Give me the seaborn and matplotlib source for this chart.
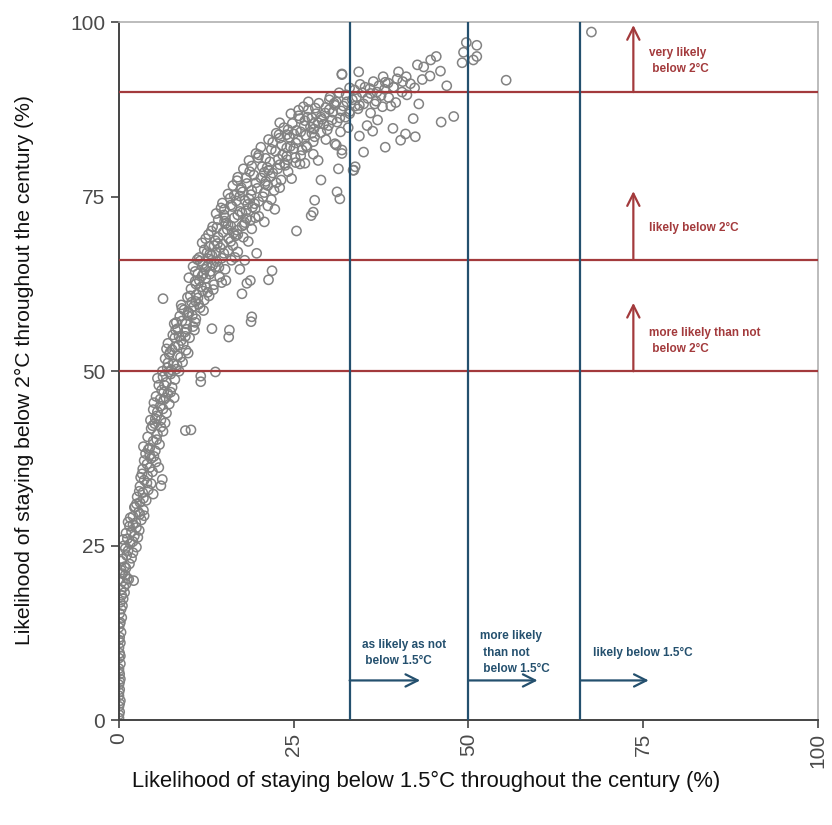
import numpy as np
import pandas as pd
import matplotlib
matplotlib.use("Agg")
import matplotlib.pyplot as plt
import seaborn as sns

# Scenario likelihoods (%): staying below 1.5 °C (x) vs below 2 °C (y)
lowtail_x = [0.0, 0.1, 0.0, 0.2, 0.0, 0.1, 0.0, 0.2, 0.1, 0.0, 0.2, 0.0, 0.1, 0.0, 0.2, 0.1, 0.3,
             0.0, 0.2, 0.4, 0.1, 0.3, 0.5, 0.2, 0.6, 0.4, 0.8, 0.3, 0.7, 1.0, 0.5, 1.2, 0.9, 1.4, 2.1,
             0.0, 0.1, 0.0, 0.1, 0.0, 0.2, 0.0, 0.1]
lowtail_y = [0.3, 1.2, 2.0, 2.8, 3.5, 4.4, 5.1, 5.9, 6.6, 7.4, 8.1, 8.9, 9.6, 10.4, 11.1, 11.9, 12.6,
             13.3, 14.0, 14.7, 15.3, 15.9, 16.4, 16.9, 17.4, 17.9, 18.3, 18.7, 19.1, 19.5, 19.9, 20.3,
             20.8, 20.2, 20.0,
             0.8, 2.4, 4.0, 5.5, 7.0, 9.2, 11.5, 13.8]

rise_x = [0.3, 0.8, 1.5, 0.5, 1.1, 2.0, 0.9, 2.5, 1.6, 1.2, 2.2, 1.8, 2.9, 1.5, 2.4, 3.2, 2.0, 2.8,
          3.5, 2.3, 3.0, 3.9, 2.6, 3.4, 4.2, 3.0, 4.6, 6.0, 6.2, 3.6, 4.1, 4.8, 3.4, 5.3, 4.0, 4.6,
          3.8, 5.2, 4.4, 5.8, 4.9, 4.1,
          0.5, 1.0, 0.3, 1.8, 1.3, 0.7, 2.0, 1.0, 2.5, 2.0, 1.6, 3.0, 2.5, 3.5, 2.9, 4.0, 3.3, 4.4,
          3.6, 5.0, 4.2, 3.5, 5.4]
rise_y = [21.5, 22.0, 22.4, 23.1, 23.6, 24.0, 24.6, 24.8, 25.3, 26.0, 26.4, 27.0, 27.2, 27.8, 28.3,
          28.7, 29.2, 29.8, 30.1, 30.6, 31.2, 31.5, 32.0, 32.6, 33.0, 33.5, 33.9, 33.6, 34.5, 34.4,
          35.0, 35.6, 36.0, 37.0, 36.7, 37.5, 38.2, 38.6, 39.0, 39.5, 40.0, 40.6,
          21.0, 21.8, 22.8, 23.2, 24.3, 25.0, 25.6, 26.8, 27.6, 28.0, 29.0, 29.5, 31.0, 31.8, 32.8,
          34.0, 35.3, 36.2, 37.2, 37.8, 38.8, 39.2, 40.2]

mid_x = [5.5, 6.3, 4.6, 5.1, 9.5, 10.3, 6.0, 5.4, 6.8, 4.9, 5.9, 7.2, 6.4, 5.3, 7.0, 6.1, 7.6, 5.7,
         6.8, 8.0, 6.3, 7.4, 8.6, 6.9, 11.7, 11.7, 13.8,
         7.8, 9.1, 6.6, 8.4, 7.3, 9.6, 8.0, 7.0, 8.9, 10.1, 7.7, 9.4, 8.4, 10.6, 7.9, 9.0, 11.0, 8.7,
         10.0, 9.3, 11.6, 8.9, 10.4, 12.2, 9.8, 11.1,
         13.3, 15.8, 15.7, 19.0, 18.9, 6.3,
         4.8, 6.0, 5.2, 4.5, 6.3, 5.0, 6.7, 5.9, 7.4, 6.5, 5.5, 7.1, 8.2, 7.0, 6.2, 8.8, 7.6, 9.2,
         6.8, 8.0, 9.5,
         7.2, 8.5, 9.7, 10.9, 8.1, 9.9, 11.4, 10.7]
mid_y = [41.0, 41.4, 41.8, 42.5, 41.5, 41.6, 43.0, 43.6, 44.0, 44.5, 45.0, 45.3, 45.9, 46.4, 46.8,
         47.3, 47.7, 48.0, 48.4, 48.8, 49.2, 49.6, 50.0, 50.5, 48.5, 49.3, 49.9,
         51.0, 51.3, 51.8, 52.2, 52.7, 53.0, 53.5, 54.0, 54.4, 54.8, 55.2, 55.6, 56.1, 56.4, 56.8,
         57.2, 57.5, 57.9, 58.3, 58.8, 59.1, 59.5, 59.9, 60.2, 60.6, 61.0,
         56.1, 55.9, 54.9, 57.8, 57.1, 60.4,
         42.2, 42.0, 43.2, 43.0, 44.6, 45.5, 46.2, 46.0, 47.0, 48.0, 49.0, 49.9, 50.3, 51.2, 50.0,
         52.0, 53.1, 53.9, 53.2, 54.8, 55.0,
         52.4, 53.7, 56.0, 57.0, 55.9, 58.5, 59.6, 59.3]

upper_x = [12.7, 10.3, 11.8, 13.6, 10.9, 12.4, 14.4, 11.3, 13.1, 15.2, 10.6, 12.0, 14.0, 16.1, 11.5,
           13.3, 15.0, 17.0, 12.2, 14.5, 16.3, 11.9, 13.8, 15.7, 17.8, 12.8, 14.9, 16.9, 19.0,
           21.9, 21.4, 18.8, 17.6, 18.3, 19.7, 18.0, 12.5,
           13.4, 15.6, 18.0, 14.2, 16.5, 20.0, 13.9, 17.3, 15.1, 19.1, 21.3, 14.8, 16.8, 18.6, 20.6,
           15.6, 17.7, 22.2, 19.8, 16.3, 18.3, 21.0, 23.2, 17.0, 19.3, 22.0, 24.2, 17.8, 20.5, 23.0,
           25.3, 18.6,
           25.4, 27.8, 27.5, 19.5, 31.2, 31.6, 28.0,
           8.2, 9.6, 10.5, 9.0, 11.3, 10.2, 12.0, 11.5, 13.0, 10.9, 12.6, 14.3, 11.2, 12.8, 15.6,
           13.6, 12.4, 14.2, 17.0, 16.0, 14.0, 18.8,
           15.2, 17.0, 19.5, 14.6, 16.5, 18.0, 20.8, 17.5, 19.6, 22.5, 18.2, 21.4, 19.0, 23.8,
           14.1, 16.7, 15.3, 17.9, 16.2, 19.4, 17.4, 20.9, 18.9, 21.7, 15.9, 13.0, 12.1, 14.7,
           11.9, 13.4, 14.9, 12.6, 16.4, 15.1, 17.6, 18.4]
upper_y = [61.3, 61.8, 62.1, 62.4, 62.9, 63.3, 63.5, 64.0, 64.3, 64.6, 65.0, 65.4, 65.7, 65.9, 66.3,
           66.6, 66.9, 67.1, 67.4, 67.7, 68.0, 68.4, 68.7, 69.0, 69.2, 69.6, 69.9, 70.2, 70.4,
           64.4, 63.1, 63.0, 61.1, 62.6, 66.9, 65.9, 62.0,
           70.7, 71.0, 71.3, 71.7, 72.0, 72.2, 72.6, 72.9, 73.2, 73.5, 73.7, 74.1, 74.4, 74.7, 75.0,
           75.4, 75.7, 75.9, 76.2, 76.6, 76.9, 77.2, 77.4, 77.8, 78.1, 78.4, 78.6, 79.0, 79.3, 79.6,
           79.9, 80.2,
           70.1, 72.8, 72.3, 72.0, 75.7, 74.7, 74.5,
           57.0, 56.8, 58.0, 59.0, 60.5, 60.8, 61.5, 63.0, 63.9, 64.3, 65.0, 64.9, 66.0, 66.1, 67.3,
           68.0, 69.0, 69.2, 69.6, 70.8, 70.6, 71.6,
           72.0, 72.4, 73.3, 73.4, 75.2, 74.5, 75.6, 76.3, 77.0, 77.0, 77.7, 78.8, 79.4, 79.5,
           68.3, 69.4, 71.2, 71.0, 73.6, 74.0, 76.0, 76.8, 75.3, 77.9, 74.8, 66.8, 64.0, 62.7,
           63.7, 65.2, 68.2, 67.0, 69.8, 71.5, 72.7, 73.9]

fill_x = [11.0, 12.9, 10.0, 13.8, 11.6, 14.7, 12.9, 16.0, 13.2, 17.6, 15.0, 18.2, 16.0, 20.0, 17.3,
          19.0, 21.3, 16.9, 20.3, 18.7, 22.7, 21.6, 19.9, 23.4, 25.0, 22.0, 24.0, 26.0, 27.9, 23.0,
          25.9, 28.9, 30.1, 26.4, 27.6, 29.3, 31.2, 32.4, 24.5, 20.8, 15.5, 13.9, 12.3, 11.0, 9.8,
          8.6, 7.5, 6.4, 5.5, 4.4, 3.1, 2.2, 1.3, 0.6, 2.7, 3.6, 4.9, 5.7, 6.6, 7.9, 8.3, 9.9, 10.8,
          12.1, 13.5, 15.3, 17.3, 16.6, 18.5, 20.8, 22.3, 23.0, 24.7, 26.6, 27.8, 29.6, 32.8, 18.3,
          21.8, 24.1]
fill_y = [60.0, 60.8, 63.4, 64.9, 65.8, 66.2, 67.9, 68.6, 70.1, 70.8, 72.4, 73.0, 73.8, 74.3, 75.1,
          75.9, 76.6, 77.3, 77.7, 78.6, 79.0, 80.0, 80.6, 81.0, 81.9, 82.8, 83.9, 84.3, 84.7, 85.6,
          86.2, 86.4, 87.5, 87.9, 86.3, 85.4, 85.7, 86.4, 82.2, 78.5, 70.3, 67.0, 64.6, 62.5, 58.0,
          55.0, 50.2, 47.0, 44.2, 38.0, 34.8, 30.5, 28.4, 25.9, 26.2, 29.3, 32.4, 36.2, 42.6, 46.2,
          50.9, 52.6, 55.9, 58.7, 61.7, 63.0, 64.6, 66.3, 68.6, 71.4, 73.2, 76.3, 77.6, 79.8, 81.1,
          83.2, 84.9, 71.9, 74.6, 80.3]

shoulder_x = [21.0, 24.0, 19.6, 22.4, 26.2, 20.3, 23.3, 25.3, 27.8, 21.4, 24.4, 26.7, 22.5, 28.9,
              25.4, 23.6, 27.4, 30.0, 24.8, 26.6, 29.0, 31.6, 25.7, 28.2, 30.6, 33.0, 27.1, 29.6,
              32.1, 34.4, 28.6, 25.7, 27.1, 28.1, 30.9,
              28.5, 28.9, 31.9, 31.4, 33.5, 30.9, 26.9, 25.9, 33.6, 31.9, 31.1,
              20.0, 22.8, 25.2, 21.8, 24.0, 26.8, 23.0, 25.6, 28.0, 24.2, 26.5, 28.5, 30.5, 27.0,
              21.2, 23.7, 26.0, 22.9, 25.0, 27.6, 29.8, 24.6, 27.9, 30.1]
shoulder_y = [80.5, 80.8, 81.2, 81.5, 81.7, 82.1, 82.4, 82.7, 82.9, 83.2, 83.5, 83.8, 84.1, 84.2,
              84.5, 84.9, 85.0, 85.2, 85.5, 85.9, 86.1, 86.3, 86.6, 86.9, 87.1, 87.2, 87.5, 87.8,
              88.0, 88.1, 88.4, 87.4, 88.6, 87.7, 88.1,
              80.2, 77.4, 81.7, 79.0, 78.8, 82.6, 82.1, 79.7, 78.8, 81.2, 82.4,
              81.0, 80.4, 80.6, 81.8, 82.0, 82.3, 83.4, 83.2, 83.6, 84.6, 85.2, 85.6, 86.0, 86.4,
              79.2, 79.8, 80.9, 83.9, 84.0, 84.1, 84.6, 86.9, 85.5, 88.9]

top_x = [31.1, 33.4, 35.6, 30.2, 32.5, 34.8, 36.9, 33.7, 35.9, 38.0, 37.2, 39.3, 34.5, 36.4, 38.5,
         40.6, 35.0, 36.8, 38.6, 33.0, 34.2, 36.0, 37.7, 39.6, 41.2, 42.9, 40.0, 41.1, 43.4, 41.7,
         38.1, 39.3, 44.6, 45.4, 42.7, 43.6, 46.0, 46.9, 34.3, 31.9, 31.9,
         47.9, 46.1, 42.1, 42.4, 40.3, 41.0, 39.2, 38.1, 36.3, 34.4, 35.0, 31.7, 33.8, 37.0, 35.5,
         49.7, 51.2, 49.3, 49.1, 50.7, 51.2, 55.4, 67.6,
         29.5, 31.8, 33.8, 30.8, 32.6, 34.0, 36.0, 31.5, 33.0, 35.2, 37.5, 36.6, 38.9, 40.5, 39.8,
         37.8, 42.3, 44.5]
top_y = [88.6, 88.9, 89.1, 89.3, 89.6, 89.9, 90.0, 90.3, 90.5, 90.4, 90.9, 90.7, 91.1, 91.5, 91.3,
         91.5, 88.3, 88.7, 89.2, 86.9, 87.6, 87.0, 87.9, 88.5, 89.6, 88.3, 92.9, 92.2, 91.8, 91.2,
         91.4, 90.7, 94.6, 95.1, 93.9, 93.6, 93.0, 90.9, 92.9, 92.6, 92.5,
         86.5, 85.7, 86.2, 83.6, 83.1, 84.0, 84.8, 82.1, 84.4, 83.7, 81.4, 84.3, 79.3, 86.0, 85.2,
         97.1, 96.7, 95.7, 94.2, 94.6, 95.1, 91.7, 98.6,
         87.0, 87.3, 88.0, 88.4, 88.6, 89.3, 89.8, 89.9, 90.6, 90.7, 89.5, 88.3, 88.0, 90.0, 91.9,
         92.2, 90.6, 92.3]

# Likelihood thresholds and their annotations
thr_2c = [50, 66, 90]
thr_15c = [33, 50, 66]
labels_2c = ["more likely than not\n below 2°C", "likely below 2°C", "very likely\n below 2°C"]
labels_15c = ["as likely as not\n below 1.5°C", "more likely\n than not\n below 1.5°C", "likely below 1.5°C"]
ticks = [0, 25, 50, 75, 100]

x_all = lowtail_x + rise_x + mid_x + upper_x + fill_x + shoulder_x + top_x
y_all = lowtail_y + rise_y + mid_y + upper_y + fill_y + shoulder_y + top_y
df = pd.DataFrame({"p15": x_all, "p2": y_all})

sns.set_style("ticks")
plt.rcParams["font.family"] = ["Liberation Sans", "DejaVu Sans"]

RED = "#a33a3c"
BLUE = "#24506e"
GREY = "#828282"

fig = plt.figure(figsize=(8.32, 8.25), dpi=100)
ax = fig.add_axes([0.143, 0.127, 0.840, 0.846])

sns.scatterplot(data=df, x="p15", y="p2", ax=ax, marker="o", s=44,
                facecolors="none", edgecolor=GREY, linewidth=1.1, legend=False, zorder=2)

for v in thr_2c:
    ax.axhline(v, color=RED, lw=1.6, zorder=3)
for v in thr_15c:
    ax.axvline(v, color=BLUE, lw=1.6, zorder=3)

# Upward arrows for the 2 °C classes
arrow_tops = [59.8, 75.8, 99.6]
for base, tip in zip(thr_2c, arrow_tops):
    ax.annotate("", xy=(73.6, tip), xytext=(73.6, base),
                arrowprops=dict(arrowstyle="->", color=RED, lw=1.6, mutation_scale=22,
                                shrinkA=0, shrinkB=0), zorder=4)
text_y_2c = [54.4, 70.5, 94.5]
for ty, lab in zip(text_y_2c, labels_2c):
    ax.text(75.8, ty, lab, color=RED, fontsize=8.5, fontweight="bold", va="center", ha="left",
            linespacing=1.45)

# Rightward arrows for the 1.5 °C classes
arrow_ends = [43.1, 59.9, 75.8]
for base, tip in zip(thr_15c, arrow_ends):
    ax.annotate("", xy=(tip, 5.7), xytext=(base, 5.7),
                arrowprops=dict(arrowstyle="->", color=BLUE, lw=1.6, mutation_scale=22,
                                shrinkA=0, shrinkB=0), zorder=4)
text_x_15c = [34.8, 51.6, 67.8]
text_y_15c = [9.6, 9.7, 9.6]
for tx, ty, lab in zip(text_x_15c, text_y_15c, labels_15c):
    ax.text(tx, ty, lab, color=BLUE, fontsize=8.5, fontweight="bold", va="center", ha="left",
            linespacing=1.45)

ax.set_xlim(0, 100)
ax.set_ylim(0, 100)
ax.set_xticks(ticks)
ax.set_yticks(ticks)
ax.set_xticklabels([str(t) for t in ticks], rotation=90)
ax.tick_params(axis="both", labelsize=15, labelcolor="#4a4a4a", color="#444444",
               length=6, width=1.2, direction="out", pad=4)
ax.tick_params(axis="x", pad=3)

for side in ["left", "bottom"]:
    ax.spines[side].set_color("#444444")
    ax.spines[side].set_linewidth(1.4)
for side in ["top", "right"]:
    ax.spines[side].set_visible(True)
    ax.spines[side].set_color("#b0b0b0")
    ax.spines[side].set_linewidth(1.2)

ax.set_xlabel("Likelihood of staying below 1.5°C throughout the century (%)",
              fontsize=15.8, color="#111111")
ax.set_ylabel("Likelihood of staying below 2°C throughout the century (%)",
              fontsize=15.2, color="#111111")
ax.xaxis.set_label_coords(0.439, -0.073)
ax.yaxis.set_label_coords(-0.122, 0.502)

fig.savefig("out.png", dpi=100)
